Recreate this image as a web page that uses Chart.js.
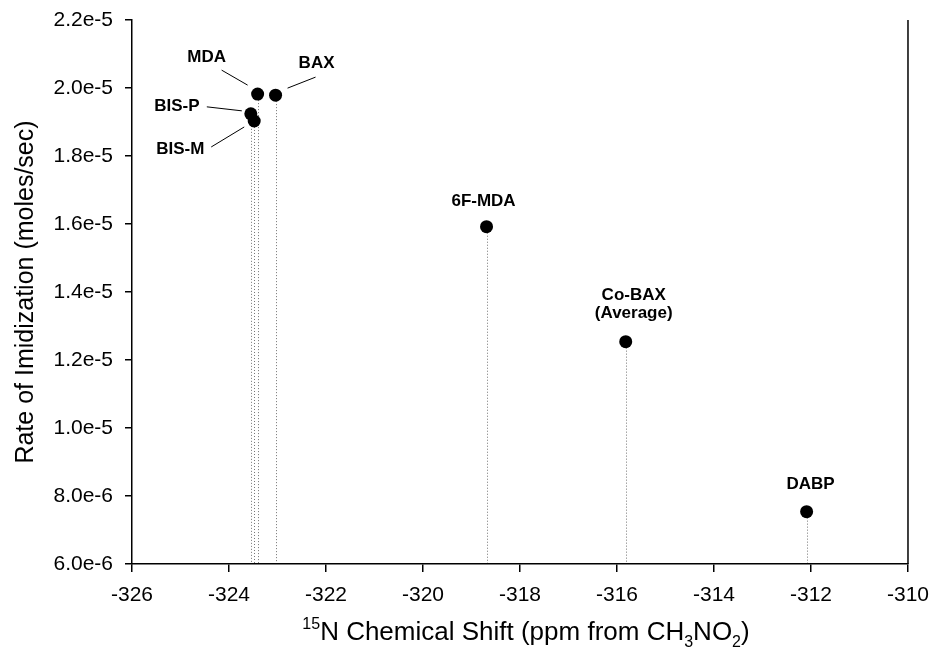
<!DOCTYPE html>
<html>
<head>
<meta charset="utf-8">
<script src="https://cdn.jsdelivr.net/npm/chart.js@4"></script>
<style>
  body { margin: 0; background: #fff; }
  #wrap { width: 940px; height: 665px; position: relative; }
</style>
</head>
<body>
<div id="wrap"><canvas id="myChart"></canvas></div>
<script>
// data
const compounds = ['MDA', 'BAX', 'BIS-P', 'BIS-M', '6F-MDA', 'Co-BAX\n(Average)', 'DABP'];
const shifts = [-323.41, -323.04, -323.55, -323.48, -318.69, -315.82, -312.09];
const rates = [1.982e-5, 1.979e-5, 1.924e-5, 1.903e-5, 1.592e-5, 1.254e-5, 7.54e-6];
const xTickValues = [-326, -324, -322, -320, -318, -316, -314, -312, -310];
const yTickValues = [6e-6, 8e-6, 1e-5, 1.2e-5, 1.4e-5, 1.6e-5, 1.8e-5, 2e-5, 2.2e-5];

// label placement, offsets from the point in px (text centre, optional leader line)
const labelPlace = [
    { dx: -51, dy: -37, lead: [-36, -24, -10, -9] },
    { dx: 41, dy: -32, lead: [12, -7, 40, -18] },
    { dx: -74, dy: -8, lead: [-44, -7, -9, -3] },
    { dx: -74, dy: 28, lead: [-43, 26, -10, 6] },
    { dx: -3, dy: -25 },
    { dx: 8, dy: -46 },
    { dx: 4, dy: -27 }
];

const FONT = "'Liberation Sans', Arial, sans-serif";

const extras = {
    id: 'extras',
    beforeDatasetsDraw(chart) {
        const ctx = chart.ctx;
        const xs = chart.scales.x, ys = chart.scales.y;
        const bottom = chart.chartArea.bottom;
        ctx.save();
        ctx.strokeStyle = 'rgba(0,0,0,0.55)';
        ctx.lineWidth = 1;
        ctx.setLineDash([1, 2]);
        shifts.forEach((s, i) => {
            const px = Math.round(xs.getPixelForValue(s)) + 0.5;
            ctx.beginPath();
            ctx.moveTo(px, ys.getPixelForValue(rates[i]) + 6);
            ctx.lineTo(px, bottom);
            ctx.stroke();
        });
        ctx.restore();
    },
    afterDraw(chart) {
        const ctx = chart.ctx;
        const a = chart.chartArea;
        const xs = chart.scales.x, ys = chart.scales.y;
        ctx.save();
        // right frame line
        ctx.strokeStyle = '#000';
        ctx.lineWidth = 1.5;
        ctx.beginPath();
        ctx.moveTo(a.right, a.top);
        ctx.lineTo(a.right, a.bottom);
        ctx.stroke();

        // point labels
        ctx.fillStyle = '#000';
        ctx.font = 'bold 17px ' + FONT;
        ctx.textAlign = 'center';
        ctx.textBaseline = 'middle';
        ctx.lineWidth = 1;
        compounds.forEach((name, i) => {
            const px = xs.getPixelForValue(shifts[i]);
            const py = ys.getPixelForValue(rates[i]);
            const p = labelPlace[i];
            name.split('\n').forEach((line, k) => {
                ctx.fillText(line, px + p.dx, py + p.dy + k * 18);
            });
            if (p.lead) {
                ctx.beginPath();
                ctx.moveTo(px + p.lead[0], py + p.lead[1]);
                ctx.lineTo(px + p.lead[2], py + p.lead[3]);
                ctx.stroke();
            }
        });

        // y title
        ctx.save();
        ctx.translate(26, (a.top + a.bottom) / 2);
        ctx.rotate(-Math.PI / 2);
        ctx.font = '25px ' + FONT;
        ctx.textBaseline = 'middle';
        ctx.fillText('Rate of Imidization (moles/sec)', 0, 0);
        ctx.restore();

        // x title with super/subscripts
        const parts = [
            { t: '15', s: 16, dy: -11 },
            { t: 'N Chemical Shift (ppm from CH', s: 26, dy: 0 },
            { t: '3', s: 16, dy: 7 },
            { t: 'NO', s: 26, dy: 0 },
            { t: '2', s: 16, dy: 7 },
            { t: ')', s: 26, dy: 0 }
        ];
        ctx.textAlign = 'left';
        ctx.textBaseline = 'alphabetic';
        let total = 0;
        parts.forEach(p => { ctx.font = p.s + 'px ' + FONT; p.w = ctx.measureText(p.t).width; total += p.w; });
        let x = (a.left + a.right) / 2 + 6 - total / 2;
        const base = 640;
        parts.forEach(p => {
            ctx.font = p.s + 'px ' + FONT;
            ctx.fillText(p.t, x, base + p.dy);
            x += p.w;
        });
        ctx.restore();
    }
};

function InitChart() {
    return document.getElementById('myChart');
}

const ctx = InitChart();
const myChart = new Chart(ctx, {
    type: 'scatter',
    data: {
        datasets: [{
            data: shifts.map((s, i) => ({ x: s, y: rates[i] })),
            backgroundColor: '#000',
            borderWidth: 0,
            pointRadius: 6.5,
            pointHoverRadius: 6.5
        }]
    },
    options: {
        responsive: true,
        maintainAspectRatio: false,
        animation: false,
        layout: { padding: { top: 20, right: 28, left: 0, bottom: 0 } },
        plugins: { legend: { display: false }, tooltip: { enabled: false } },
        scales: {
            x: {
                type: 'linear',
                min: -326,
                max: -310,
                afterBuildTicks: s => { s.ticks = xTickValues.map(v => ({ value: v })); },
                afterFit: s => { s.height = 101; },
                border: { color: '#000', width: 1.5 },
                grid: { drawOnChartArea: false, tickLength: 8, tickColor: '#000', lineWidth: 1.5 },
                ticks: {
                    color: '#000',
                    font: { family: FONT, size: 21 },
                    padding: 11,
                    autoSkip: false,
                    maxRotation: 0
                }
            },
            y: {
                min: 6e-6,
                max: 2.2e-5,
                afterBuildTicks: s => { s.ticks = yTickValues.map(v => ({ value: v })); },
                afterFit: s => { s.width = 132; s.paddingTop = 0; s.paddingBottom = 0; },
                border: { color: '#000', width: 1.5 },
                grid: { drawOnChartArea: false, tickLength: 7, tickColor: '#000', lineWidth: 1.5 },
                ticks: {
                    color: '#000',
                    font: { family: FONT, size: 21 },
                    padding: 12,
                    autoSkip: false,
                    callback: v => v.toExponential(1)
                }
            }
        }
    },
    plugins: [extras]
});
</script>
</body>
</html>
